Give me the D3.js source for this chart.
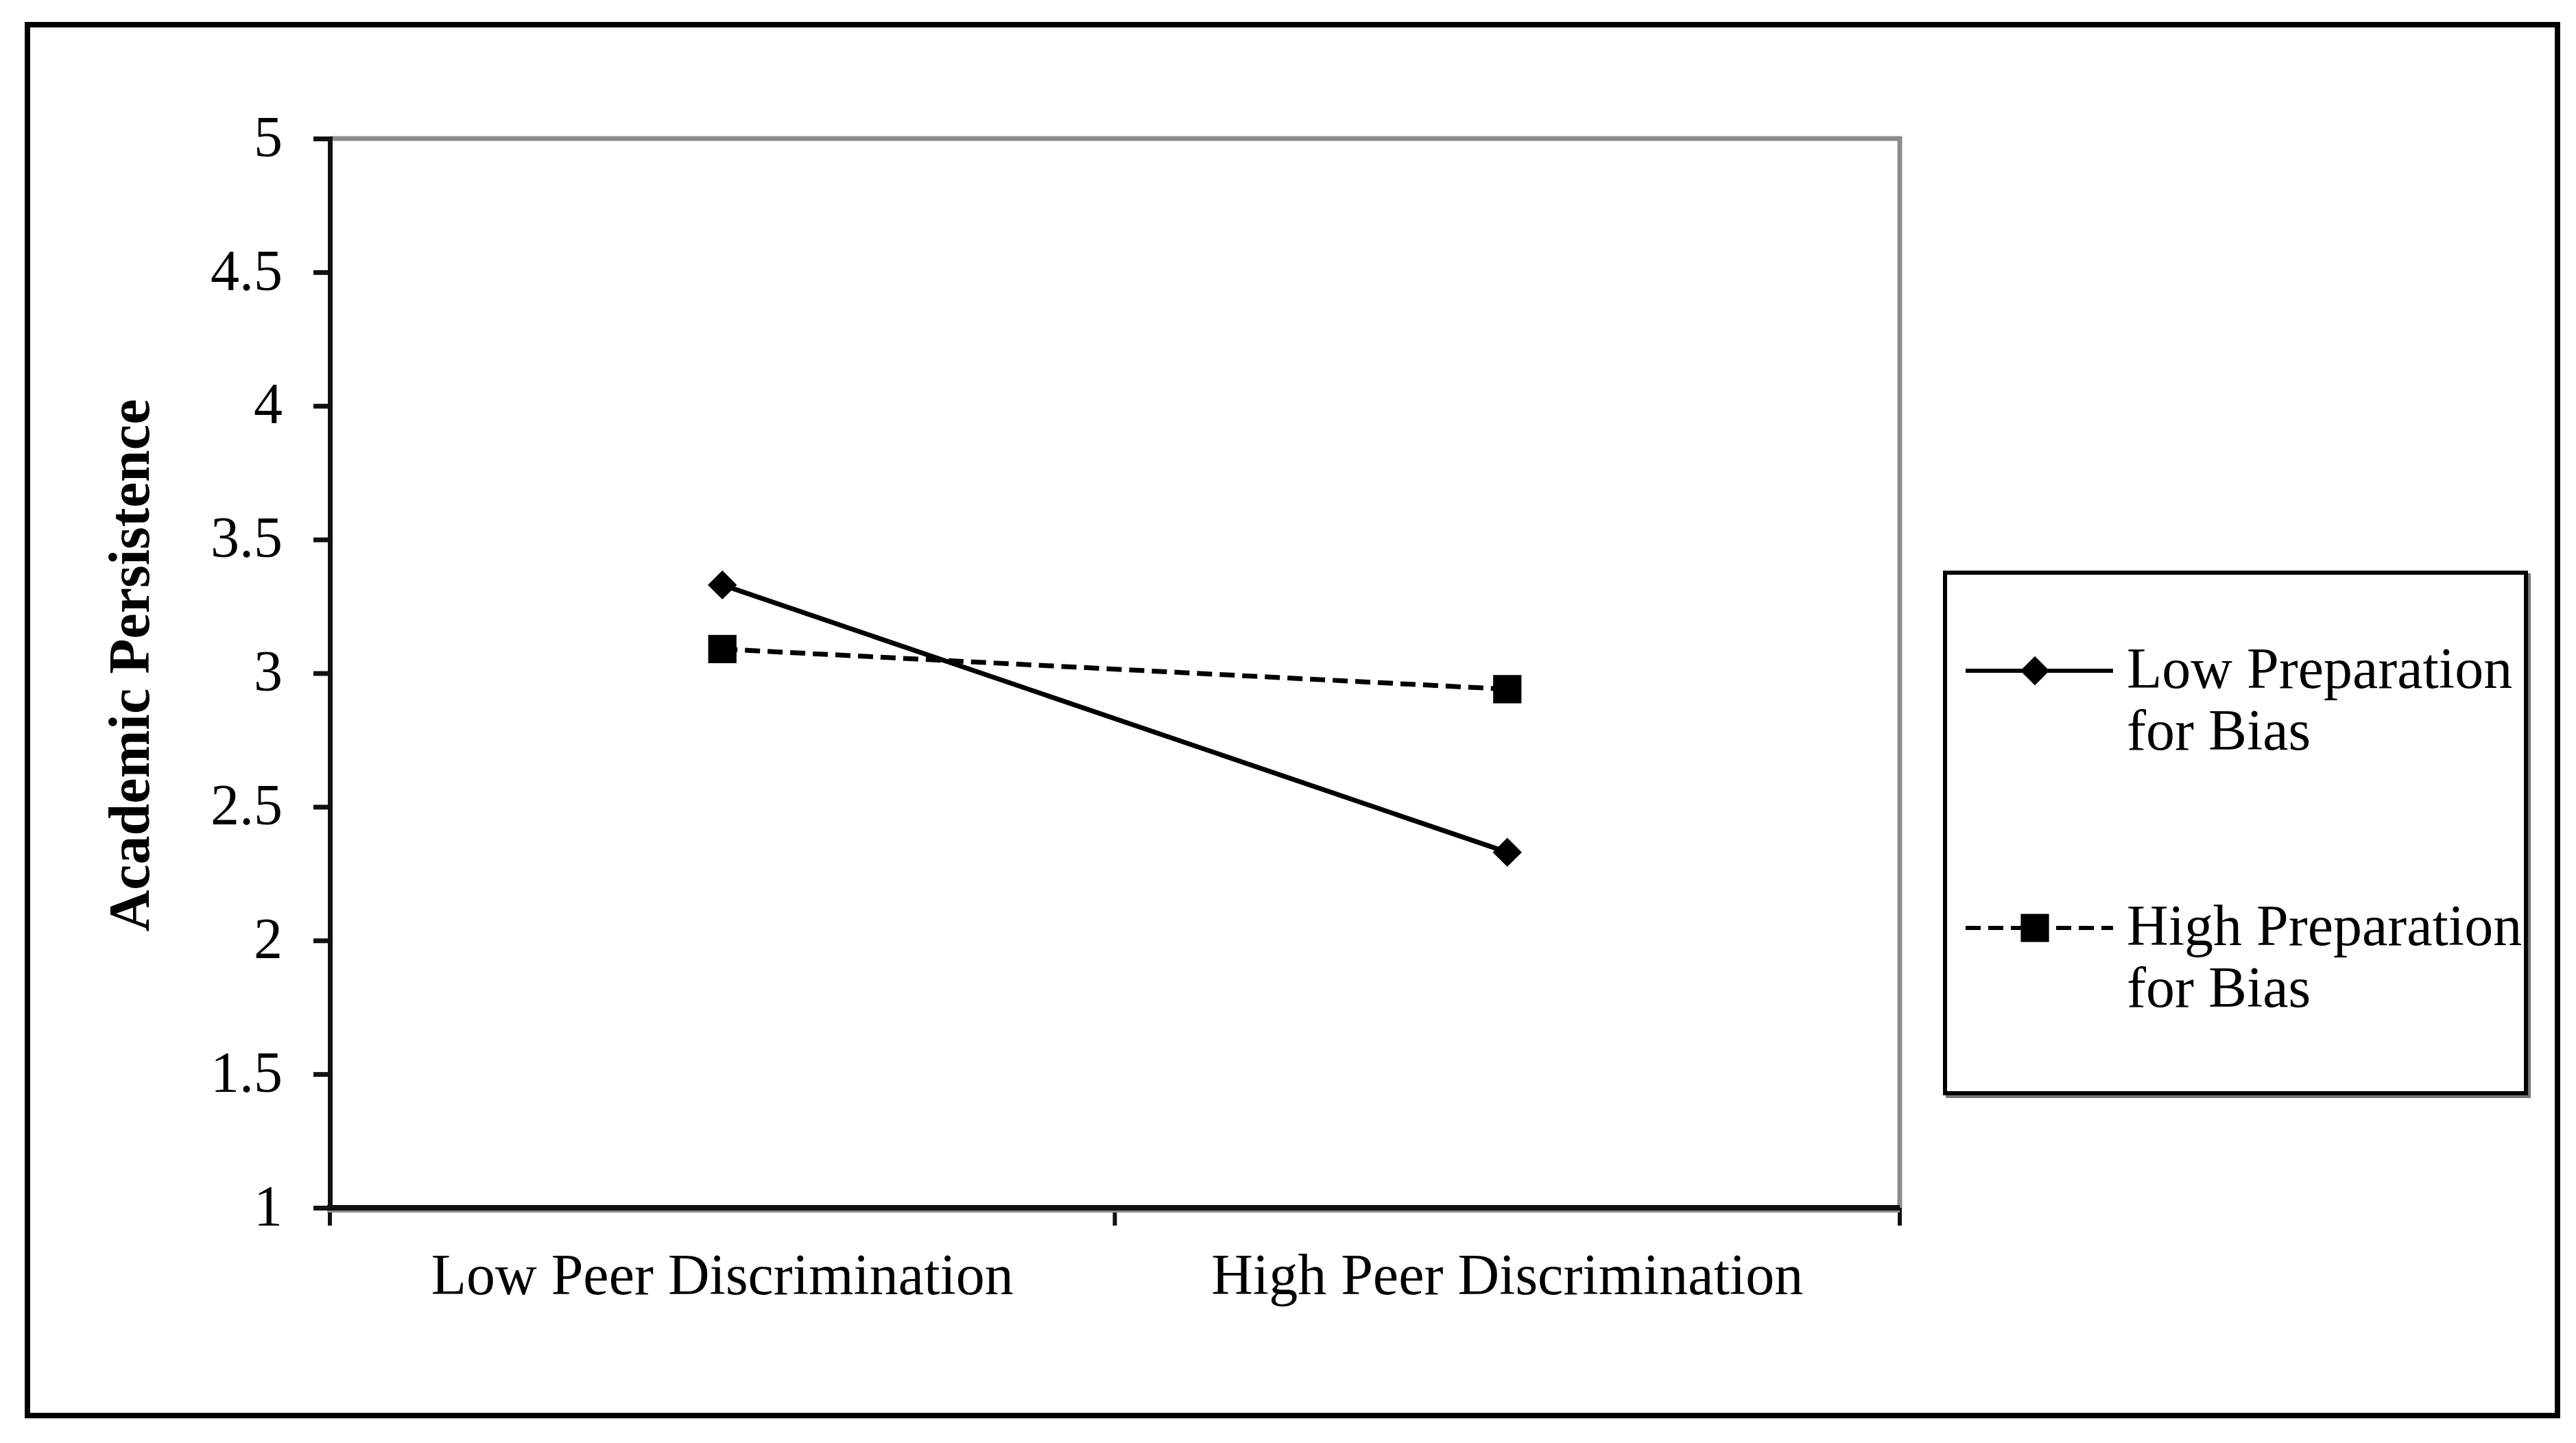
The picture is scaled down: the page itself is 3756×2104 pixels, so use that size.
<!DOCTYPE html>
<html>
<head>
<meta charset="utf-8">
<script src="https://cdn.jsdelivr.net/npm/d3@7"></script>
<style>
  body { margin: 0; background: white; }
  svg text { font-family: "Liberation Serif", "Times New Roman", serif; }
</style>
</head>
<body>
<div class="chart"></div>
<script>
var width = 3756;
var height = 2104;

var categories = ["Low Peer Discrimination", "High Peer Discrimination"];
var seriesNames = ["Low Preparation for Bias", "High Preparation for Bias"];
var lowPrep = [3.33, 2.33];
var highPrep = [3.09, 2.94];
var yTicks = [1, 1.5, 2, 2.5, 3, 3.5, 4, 4.5, 5];
var yTickLabels = ["1", "1.5", "2", "2.5", "3", "3.5", "4", "4.5", "5"];
var yTitle = "Academic Persistence";

var plotLeft = 481, plotRight = 2770, plotTop = 202, plotBottom = 1761;

var x = d3.scaleBand().domain(categories).range([plotLeft, plotRight]);
var y = d3.scaleLinear().domain([1, 5]).range([plotBottom, plotTop]);

var svg = d3.select(".chart")
    .append("svg")
    .attr("width", width)
    .attr("height", height)

svg.append("rect")
    .attr("x", 0).attr("y", 0)
    .attr("width", width).attr("height", height)
    .attr("fill", "white")

// outer frame
svg.append("rect")
    .attr("x", 40).attr("y", 36)
    .attr("width", 3729 - 40).attr("height", 2064 - 36)
    .attr("fill", "none")
    .attr("stroke", "black")
    .attr("stroke-width", 8)

// plot area border (top and right are grey)
svg.append("path")
    .attr("d", "M" + plotLeft + "," + plotTop + "H" + plotRight + "V" + plotBottom)
    .attr("fill", "none")
    .attr("stroke", "#8c8c8c")
    .attr("stroke-width", 7)

// y axis
var yAxis = d3.axisLeft(y)
    .tickValues(yTicks)
    .tickSize(24)
    .tickPadding(45)
    .tickFormat(function(d, i) { return yTickLabels[i]; });

var gy = svg.append("g")
    .attr("transform", "translate(" + plotLeft + ",0)")
    .call(yAxis);
gy.select(".domain").attr("stroke", "#111").attr("stroke-width", 7);
gy.selectAll(".tick line").attr("stroke", "#111").attr("stroke-width", 7);
gy.selectAll(".tick text")
    .attr("font-size", 84)
    .attr("font-family", "'Liberation Serif', 'Times New Roman', serif")
    .attr("fill", "black")
    .attr("dy", "0.3em");

// x axis labels
var xAxis = d3.axisBottom(x).tickSize(0).tickPadding(0);
var gx = svg.append("g")
    .attr("transform", "translate(0," + plotBottom + ")")
    .call(xAxis);
gx.select(".domain").remove();
gx.selectAll(".tick text")
    .attr("y", 1887 - plotBottom)
    .attr("dy", 0)
    .attr("font-size", 84)
    .attr("font-family", "'Liberation Serif', 'Times New Roman', serif")
    .attr("fill", "black");

// x axis line and boundary ticks
var bounds = categories.map(function(d) { return x(d); });
bounds.push(x(categories[categories.length - 1]) + x.bandwidth());
svg.selectAll(".xtick")
    .data(bounds)
    .enter().append("line")
    .attr("class", "xtick")
    .attr("x1", function(d) { return d; })
    .attr("x2", function(d) { return d; })
    .attr("y1", plotBottom)
    .attr("y2", plotBottom + 26)
    .attr("stroke", "#111")
    .attr("stroke-width", 6)
svg.append("line")
    .attr("x1", plotLeft - 4).attr("x2", plotRight)
    .attr("y1", plotBottom + 2).attr("y2", plotBottom + 2)
    .attr("stroke", "#8c8c8c")
    .attr("stroke-width", 10)
svg.append("line")
    .attr("x1", plotLeft - 4).attr("x2", plotRight)
    .attr("y1", plotBottom).attr("y2", plotBottom)
    .attr("stroke", "#111")
    .attr("stroke-width", 8)

// y axis title
svg.append("text")
    .attr("transform", "translate(217,970) rotate(-90)")
    .attr("text-anchor", "middle")
    .attr("font-size", 84)
    .attr("font-weight", "bold")
    .attr("fill", "black")
    .text(yTitle)

var cx = function(i) { return x(categories[i]) + x.bandwidth() / 2; };
var line = d3.line()
    .x(function(d, i) { return cx(i); })
    .y(function(d) { return y(d); });

var diamond = d3.symbol().type(d3.symbolSquare).size(900);
var square = d3.symbol().type(d3.symbolSquare).size(1700);

// Low preparation: solid line, diamonds
svg.append("path")
    .datum(lowPrep)
    .attr("d", line)
    .attr("fill", "none")
    .attr("stroke", "black")
    .attr("stroke-width", 7)
svg.selectAll(".diamond")
    .data(lowPrep)
    .enter().append("path")
    .attr("class", "diamond")
    .attr("d", diamond)
    .attr("transform", function(d, i) { return "translate(" + cx(i) + "," + y(d) + ") rotate(45)"; })
    .attr("fill", "black")

// High preparation: dashed line, squares
svg.append("path")
    .datum(highPrep)
    .attr("d", line)
    .attr("fill", "none")
    .attr("stroke", "black")
    .attr("stroke-width", 7)
    .attr("stroke-dasharray", "22,11")
svg.selectAll(".square")
    .data(highPrep)
    .enter().append("path")
    .attr("class", "square")
    .attr("d", square)
    .attr("transform", function(d, i) { return "translate(" + cx(i) + "," + y(d) + ")"; })
    .attr("fill", "black")

// legend
var legend = svg.append("g");
legend.append("rect")
    .attr("x", 2840).attr("y", 839)
    .attr("width", 3683 - 2836).attr("height", 1594 - 835)
    .attr("fill", "none")
    .attr("stroke", "#777")
    .attr("stroke-width", 6)
legend.append("rect")
    .attr("x", 2836).attr("y", 835)
    .attr("width", 3683 - 2836).attr("height", 1594 - 835)
    .attr("fill", "white")
    .attr("stroke", "black")
    .attr("stroke-width", 6)

var legendRows = [
    { name: seriesNames[0], y: 978, dash: null, sym: diamond, rot: 45, lines: ["Low Preparation", "for Bias"] },
    { name: seriesNames[1], y: 1353, dash: "22,11", sym: square, rot: 0, lines: ["High Preparation", "for Bias"] }
];

legendRows.forEach(function(r) {
    legend.append("line")
        .attr("x1", 2866).attr("x2", 3081)
        .attr("y1", r.y).attr("y2", r.y)
        .attr("stroke", "black")
        .attr("stroke-width", 6)
        .attr("stroke-dasharray", r.dash)
    legend.append("path")
        .attr("d", r.sym)
        .attr("transform", "translate(2967," + r.y + ") rotate(" + r.rot + ")")
        .attr("fill", "black")
    var t = legend.append("text")
        .attr("x", 3101)
        .attr("y", r.y + 25)
        .attr("font-size", 84)
        .attr("fill", "black")
    t.selectAll("tspan")
        .data(r.lines)
        .enter().append("tspan")
        .attr("x", 3101)
        .attr("dy", function(d, i) { return i == 0 ? 0 : 90; })
        .text(function(d) { return d; })
});
</script>
</body>
</html>
